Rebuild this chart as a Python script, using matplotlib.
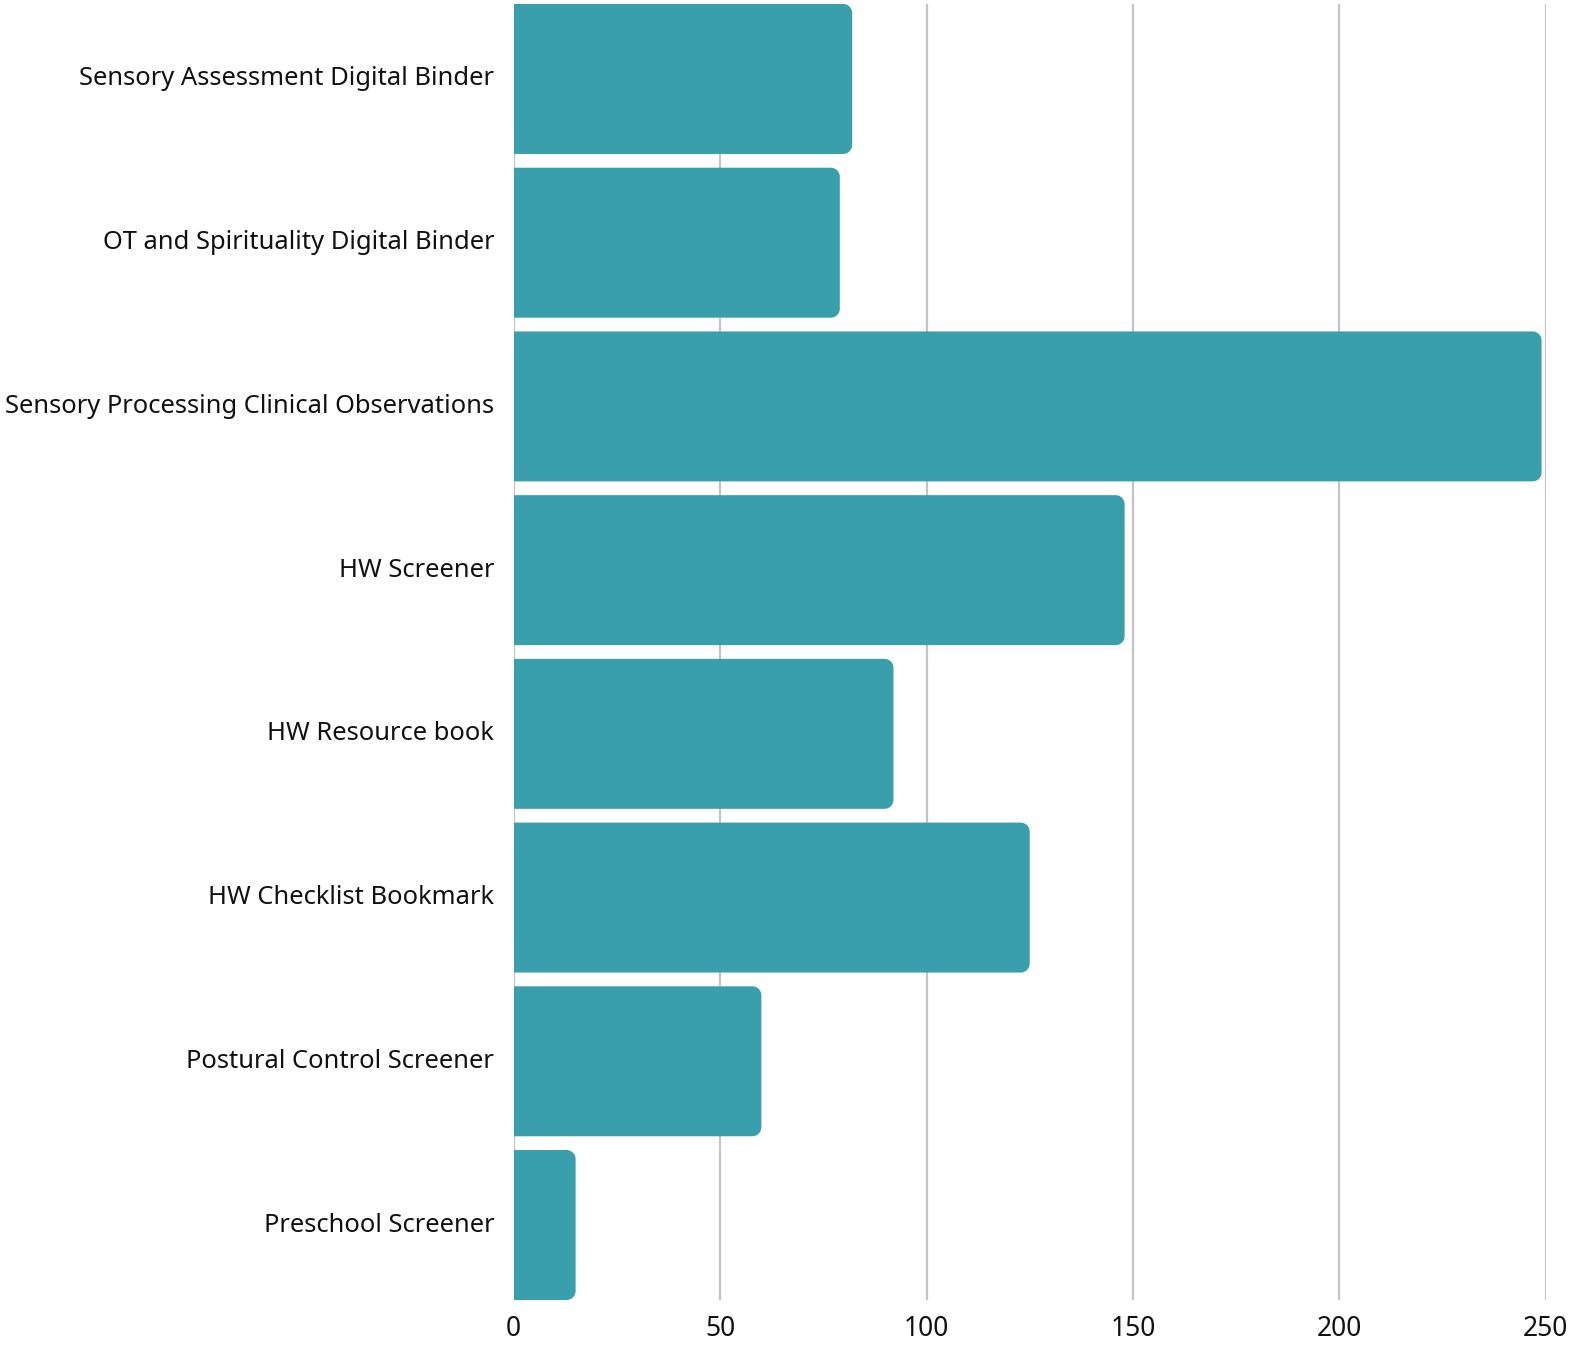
import numpy as np
import matplotlib
matplotlib.use('Agg')
import matplotlib.pyplot as plt
from matplotlib.patches import Polygon

categories = ['Sensory Assessment Digital Binder', 'OT and Spirituality Digital Binder',
              'Sensory Processing Clinical Observations', 'HW Screener', 'HW Resource book',
              'HW Checklist Bookmark', 'Postural Control Screener', 'Preschool Screener']
values = [82, 79, 249, 148, 92, 125, 60, 15]
xticks = [0, 50, 100, 150, 200, 250]

plt.rcParams['font.family'] = ['Noto Sans', 'DejaVu Sans']

W, H = 1572, 1345
fig = plt.figure(figsize=(W / 100, H / 100), dpi=100)
ax = fig.add_axes([513.7 / W, 45 / H, (1545.7 - 513.7) / W, (1341 - 45) / H])

n = len(categories)
bh = 0.916
ax.set_xlim(0, 250)
ax.set_ylim(n - 1 + bh / 2, -bh / 2)

color = '#3a9fad'
# pixel scales for the rounded right corners
xpx = (1545.7 - 513.7) / 250.0
ypx = (1341 - 45) / (n - 1 + bh)
rx = 9 / xpx
ry = 9 / ypx
t = np.linspace(0, np.pi / 2, 12)

for i, v in enumerate(values):
    y0 = i - bh / 2
    y1 = i + bh / 2
    # top-right corner (y axis inverted: y0 is top)
    cx, cy = v - rx, y0 + ry
    top = np.column_stack([cx + rx * np.sin(t), cy - ry * np.cos(t)])
    cy2 = y1 - ry
    bot = np.column_stack([cx + rx * np.cos(t), cy2 + ry * np.sin(t)])
    pts = np.vstack([[[0, y0]], top, bot, [[0, y1]]])
    ax.add_patch(Polygon(pts, closed=True, fc=color, ec='none', zorder=3))

ax.set_xticks(xticks)
ax.set_yticks(range(n))
ax.set_yticklabels(categories, va='center')
ax.grid(axis='x', color='#c4c4c4', linewidth=1.6, zorder=0)
ax.set_axisbelow(True)
for s in ax.spines.values():
    s.set_visible(False)
ax.tick_params(axis='both', length=0, colors='#111111')
ax.tick_params(axis='y', pad=14, labelsize=18.4)
ax.tick_params(axis='x', pad=11, labelsize=19)

fig.savefig('out.png', dpi=100, facecolor='white')
